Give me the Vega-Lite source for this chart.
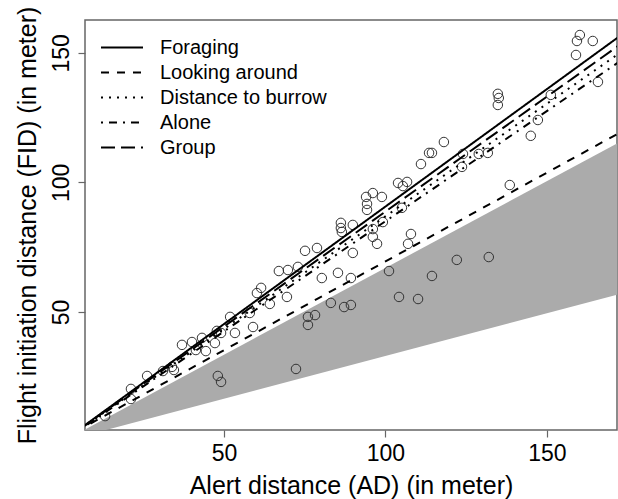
{
  "$schema": "https://vega.github.io/schema/vega-lite/v6.json",
  "width": 532,
  "height": 410,
  "autosize": {"type": "none"},
  "padding": {"left": 85, "top": 20, "right": 1, "bottom": 69},
  "background": "white",
  "config": {
    "view": {"stroke": "#666", "strokeWidth": 1.5},
    "font": "Liberation Sans",
    "axis": {
      "grid": false, "domain": false, "tickColor": "#666", "tickSize": 7, "tickWidth": 1.2,
      "labelColor": "#000", "titleColor": "#000", "labelFont": "Liberation Sans", "titleFont": "Liberation Sans",
      "labelFontSize": 23, "titleFontSize": 25, "titleFontWeight": "normal"
    }
  },
  "datasets": {
    "wedge": [
      {"ad": 0, "lo": 0, "hi": 0},
      {"ad": 175, "lo": 57.75, "hi": 117.25}
    ],
    "fits": [
      {"model": "Foraging", "ad": 0, "fid": 0},
      {"model": "Foraging", "ad": 175, "fid": 158.7},
      {"model": "Looking around", "ad": 0, "fid": 1.0},
      {"model": "Looking around", "ad": 175, "fid": 120.9},
      {"model": "Distance to burrow", "ad": 0, "fid": 0},
      {"model": "Distance to burrow", "ad": 175, "fid": 152.1},
      {"model": "Alone", "ad": 0, "fid": 0},
      {"model": "Alone", "ad": 175, "fid": 148.8},
      {"model": "Group", "ad": 0, "fid": 0},
      {"model": "Group", "ad": 175, "fid": 155.3}
    ],
    "points": [
      {"ad": 13.2, "fid": 9.8}, {"ad": 21.2, "fid": 20.3}, {"ad": 21.2, "fid": 16.4}, {"ad": 26.2, "fid": 25.3},
      {"ad": 31.1, "fid": 27.2}, {"ad": 33.9, "fid": 28.8}, {"ad": 34.5, "fid": 27.6}, {"ad": 37, "fid": 37.3},
      {"ad": 40.1, "fid": 38.4}, {"ad": 43.2, "fid": 40}, {"ad": 41.3, "fid": 35.3}, {"ad": 44.4, "fid": 34.9},
      {"ad": 47.2, "fid": 38}, {"ad": 48.1, "fid": 25.3}, {"ad": 49.1, "fid": 23}, {"ad": 47.8, "fid": 42.7},
      {"ad": 49.1, "fid": 41.9}, {"ad": 51.9, "fid": 48.1}, {"ad": 53.4, "fid": 41.9}, {"ad": 59, "fid": 44.2},
      {"ad": 58, "fid": 49.6}, {"ad": 60.2, "fid": 57.3}, {"ad": 61.5, "fid": 59.3}, {"ad": 64.2, "fid": 53.1},
      {"ad": 67, "fid": 65.8}, {"ad": 69.5, "fid": 55.8}, {"ad": 69.8, "fid": 66.2}, {"ad": 72.9, "fid": 67.4},
      {"ad": 72.3, "fid": 28}, {"ad": 75.1, "fid": 73.6}, {"ad": 78.8, "fid": 74.7}, {"ad": 80.3, "fid": 63.1},
      {"ad": 85.3, "fid": 65.1}, {"ad": 89.3, "fid": 63.1}, {"ad": 89.9, "fid": 72.8}, {"ad": 76, "fid": 48.1},
      {"ad": 78.2, "fid": 48.8}, {"ad": 76, "fid": 45}, {"ad": 83.1, "fid": 53.5}, {"ad": 87.2, "fid": 51.9},
      {"ad": 89.3, "fid": 52.7}, {"ad": 86.2, "fid": 84.4}, {"ad": 86.2, "fid": 82.4}, {"ad": 86.5, "fid": 80.9},
      {"ad": 89.9, "fid": 83.6}, {"ad": 94, "fid": 94.4}, {"ad": 96.1, "fid": 95.9}, {"ad": 98.9, "fid": 94.4},
      {"ad": 94.3, "fid": 91.7}, {"ad": 94.3, "fid": 89.4}, {"ad": 96.1, "fid": 82}, {"ad": 96.1, "fid": 79},
      {"ad": 97.4, "fid": 76.3}, {"ad": 99.2, "fid": 84.7}, {"ad": 105.1, "fid": 90.2}, {"ad": 107.9, "fid": 80.1},
      {"ad": 107, "fid": 76.3}, {"ad": 101.1, "fid": 65.8}, {"ad": 114.4, "fid": 63.9}, {"ad": 122.1, "fid": 70.1},
      {"ad": 132, "fid": 71.2}, {"ad": 104.2, "fid": 55.8}, {"ad": 110.1, "fid": 55}, {"ad": 103.9, "fid": 99.8},
      {"ad": 106.7, "fid": 100.2}, {"ad": 105.4, "fid": 98.6}, {"ad": 111, "fid": 107.1}, {"ad": 113.5, "fid": 111.4},
      {"ad": 114.4, "fid": 111.4}, {"ad": 118.1, "fid": 115.6}, {"ad": 124, "fid": 111}, {"ad": 123.7, "fid": 106},
      {"ad": 128.9, "fid": 111}, {"ad": 131.7, "fid": 111.4}, {"ad": 138.5, "fid": 99}, {"ad": 134.8, "fid": 134.2},
      {"ad": 135.1, "fid": 132.6}, {"ad": 134.8, "fid": 129.9}, {"ad": 145, "fid": 118}, {"ad": 147.2, "fid": 124.1},
      {"ad": 151.2, "fid": 133.8}, {"ad": 160.2, "fid": 156.9}, {"ad": 159.3, "fid": 154.6}, {"ad": 164.2, "fid": 154.6},
      {"ad": 159, "fid": 149.2}, {"ad": 165.8, "fid": 138.8}
    ]
  },
  "layer": [
    {
      "data": {"name": "wedge"},
      "mark": {"type": "area", "color": "#ababab", "clip": true},
      "encoding": {
        "x": {"field": "ad", "type": "quantitative", "scale": {"domain": [6.97, 171.7], "nice": false, "zero": false},
          "axis": {"title": "Alert distance (AD) (in meter)", "values": [50, 100, 150], "labelPadding": 5, "titlePadding": 8}},
        "y": {"field": "hi", "type": "quantitative", "scale": {"domain": [4.44, 162.7], "nice": false, "zero": false},
          "axis": {"title": "Flight initiation distance (FID) (in meter)", "values": [50, 100, 150], "labelAngle": 270, "labelAlign": "center", "labelBaseline": "alphabetic", "labelPadding": 10, "titlePadding": 10}},
        "y2": {"field": "lo"}
      }
    },
    {
      "data": {"name": "points"},
      "mark": {"type": "point", "shape": "circle", "filled": false, "stroke": "#333", "strokeWidth": 1, "size": 90, "opacity": 1, "clip": true},
      "encoding": {
        "x": {"field": "ad", "type": "quantitative"},
        "y": {"field": "fid", "type": "quantitative"}
      }
    },
    {
      "data": {"name": "fits"},
      "mark": {"type": "line", "stroke": "black", "strokeWidth": 2, "clip": true},
      "encoding": {
        "x": {"field": "ad", "type": "quantitative"},
        "y": {"field": "fid", "type": "quantitative"},
        "strokeDash": {
          "field": "model", "type": "nominal",
          "scale": {"domain": ["Foraging", "Looking around", "Distance to burrow", "Alone", "Group"],
            "range": [[1, 0], [8, 8], [2, 6], [2, 6, 8, 6], [14, 6]]},
          "legend": {
            "title": null, "orient": "none", "legendX": 15, "legendY": 15,
            "symbolType": "stroke", "symbolSize": 1764, "symbolStrokeWidth": 2, "symbolStrokeColor": "black",
            "labelFontSize": 20, "labelFont": "Liberation Sans", "labelColor": "#000", "labelOffset": 16, "labelLimit": 400,
            "clipHeight": 25, "rowPadding": 0, "padding": 0
          }
        }
      }
    }
  ]
}
